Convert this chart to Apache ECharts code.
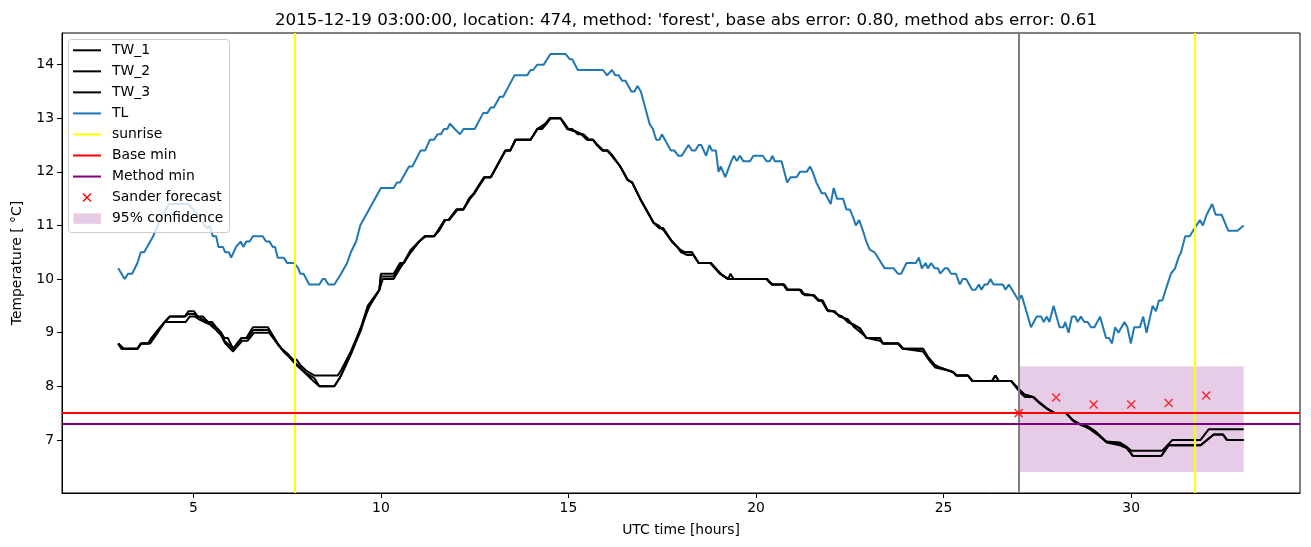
<!DOCTYPE html>
<html>
<head>
<meta charset="utf-8">
<script src="https://cdn.jsdelivr.net/npm/echarts@6/dist/echarts.min.js"></script>
<style>html,body{margin:0;padding:0;background:#fff}#c{width:1311px;height:547px}</style>
</head>
<body>
<div id="c"></div>
<script>
// ---- data (hours UTC, temperature °C) ----
const xTicks = [5, 10, 15, 20, 25, 30];
const yTicks = [7, 8, 9, 10, 11, 12, 13, 14];

const tl = [[3.0,10.2],[3.17,10.0],[3.26,10.1],[3.37,10.1],[3.51,10.3],[3.6,10.5],[3.69,10.5],[3.93,10.8],[4.15,11.15],[4.35,11.4],[4.86,11.4],[5.0,11.3],[5.12,11.2],[5.3,11.0],[5.37,10.95],[5.43,11.0],[5.52,10.8],[5.61,10.8],[5.67,10.6],[5.79,10.6],[5.85,10.5],[5.95,10.5],[6.01,10.4],[6.14,10.6],[6.26,10.7],[6.34,10.6],[6.41,10.7],[6.5,10.7],[6.59,10.8],[6.85,10.8],[6.94,10.7],[7.03,10.7],[7.12,10.6],[7.18,10.6],[7.25,10.4],[7.41,10.4],[7.5,10.3],[7.69,10.3],[7.8,10.2],[7.85,10.1],[7.94,10.1],[8.09,9.9],[8.36,9.9],[8.45,10.0],[8.51,10.0],[8.6,9.9],[8.76,9.9],[8.94,10.1],[9.1,10.3],[9.2,10.5],[9.34,10.7],[9.45,11.0],[10.0,11.7],[10.34,11.7],[10.43,11.8],[10.51,11.8],[10.75,12.1],[10.84,12.1],[11.06,12.4],[11.18,12.4],[11.31,12.6],[11.42,12.6],[11.51,12.7],[11.6,12.7],[11.68,12.8],[11.77,12.8],[11.84,12.9],[11.97,12.8],[12.02,12.8],[12.11,12.7],[12.2,12.8],[12.5,12.8],[12.73,13.1],[12.84,13.1],[12.93,13.2],[13.01,13.2],[13.17,13.4],[13.26,13.4],[13.56,13.8],[13.9,13.8],[13.99,13.9],[14.06,13.9],[14.17,14.0],[14.34,14.0],[14.52,14.2],[14.92,14.2],[15.04,14.1],[15.1,14.1],[15.25,13.9],[15.92,13.9],[16.03,13.8],[16.16,13.9],[16.25,13.8],[16.34,13.8],[16.43,13.7],[16.52,13.7],[16.68,13.5],[16.76,13.5],[16.84,13.6],[16.93,13.5],[17.16,12.9],[17.25,12.8],[17.34,12.6],[17.43,12.6],[17.49,12.7],[17.73,12.4],[17.82,12.4],[17.93,12.3],[18.02,12.3],[18.2,12.5],[18.29,12.4],[18.38,12.4],[18.47,12.5],[18.54,12.5],[18.67,12.3],[18.76,12.5],[18.82,12.4],[18.93,12.4],[19.0,12.0],[19.06,12.1],[19.18,11.9],[19.34,12.2],[19.41,12.3],[19.49,12.2],[19.57,12.3],[19.66,12.2],[19.84,12.2],[19.93,12.3],[20.18,12.3],[20.28,12.2],[20.37,12.2],[20.44,12.3],[20.5,12.2],[20.68,12.2],[20.83,11.8],[20.92,11.9],[21.08,11.9],[21.17,12.0],[21.35,12.0],[21.44,12.1],[21.51,12.0],[21.61,11.8],[21.75,11.6],[21.84,11.6],[21.99,11.4],[22.07,11.7],[22.16,11.5],[22.32,11.5],[22.41,11.3],[22.5,11.3],[22.59,11.15],[22.66,11.0],[22.75,11.1],[22.85,10.9],[22.94,10.7],[23.03,10.55],[23.16,10.5],[23.43,10.2],[23.67,10.2],[23.78,10.1],[23.87,10.1],[24.01,10.3],[24.26,10.3],[24.34,10.4],[24.42,10.2],[24.52,10.3],[24.58,10.2],[24.67,10.3],[24.76,10.2],[24.85,10.2],[24.91,10.1],[25.03,10.2],[25.11,10.2],[25.2,10.1],[25.33,10.1],[25.43,9.9],[25.51,10.0],[25.6,10.0],[25.76,9.8],[25.85,9.8],[25.94,9.9],[26.01,9.8],[26.09,9.9],[26.17,9.9],[26.25,10.0],[26.33,9.9],[26.58,9.9],[26.65,9.8],[26.74,9.9],[27.0,9.6],[27.08,9.7],[27.33,9.1],[27.48,9.3],[27.6,9.3],[27.67,9.2],[27.75,9.3],[27.82,9.2],[27.93,9.5],[28.09,9.1],[28.19,9.1],[28.24,9.2],[28.33,9.0],[28.42,9.3],[28.51,9.3],[28.57,9.2],[28.66,9.3],[28.75,9.2],[28.84,9.2],[28.93,9.1],[29.02,9.1],[29.17,9.3],[29.33,8.9],[29.41,8.9],[29.49,8.8],[29.57,9.1],[29.66,9.0],[29.82,9.2],[29.9,9.1],[29.99,8.8],[30.08,9.1],[30.23,9.1],[30.32,9.3],[30.41,9.0],[30.57,9.5],[30.66,9.4],[30.74,9.6],[30.83,9.6],[30.92,9.8],[31.06,10.1],[31.17,10.2],[31.26,10.4],[31.33,10.5],[31.44,10.8],[31.56,10.8],[31.65,10.9],[31.83,11.1],[31.91,11.0],[32.01,11.2],[32.16,11.4],[32.25,11.2],[32.41,11.2],[32.47,11.1],[32.59,10.9],[32.83,10.9],[33.0,11.0]];

const tw1 = [[3.0,8.8],[3.1,8.7],[3.51,8.7],[3.6,8.8],[3.79,8.8],[3.88,8.9],[4.0,9.0],[4.24,9.2],[4.37,9.3],[4.77,9.3],[4.87,9.4],[5.02,9.4],[5.12,9.3],[5.26,9.3],[5.39,9.2],[5.5,9.2],[5.61,9.1],[5.74,9.0],[5.83,8.9],[5.92,8.9],[6.06,8.7],[6.28,8.9],[6.41,8.9],[6.59,9.1],[6.99,9.1],[7.16,8.9],[7.25,8.8],[7.35,8.7],[7.52,8.6],[7.65,8.5],[7.75,8.5],[7.85,8.4],[8.0,8.3],[8.23,8.2],[8.85,8.2],[8.94,8.3],[9.2,8.65],[9.47,9.1],[9.65,9.5],[9.96,9.8],[10.0,10.1],[10.34,10.1],[10.51,10.3],[10.6,10.3],[10.8,10.55],[11.02,10.7],[11.17,10.8],[11.42,10.8],[11.52,10.9],[11.7,11.1],[11.8,11.1],[12.02,11.3],[12.2,11.3],[12.35,11.5],[12.48,11.6],[12.66,11.8],[12.75,11.9],[12.93,11.9],[13.32,12.4],[13.45,12.4],[13.59,12.6],[13.99,12.6],[14.17,12.8],[14.3,12.85],[14.39,12.9],[14.5,13.0],[14.79,13.0],[14.88,12.9],[14.97,12.8],[15.21,12.75],[15.35,12.7],[15.5,12.6],[15.65,12.6],[15.76,12.5],[15.9,12.4],[16.03,12.4],[16.16,12.3],[16.38,12.1],[16.58,11.85],[16.7,11.8],[16.91,11.5],[17.27,11.05],[17.43,10.95],[17.52,10.95],[17.76,10.7],[17.9,10.6],[17.98,10.55],[18.11,10.5],[18.29,10.5],[18.47,10.3],[18.78,10.3],[18.91,10.2],[19.04,10.1],[19.26,10.0],[19.32,10.1],[19.4,10.0],[20.28,10.0],[20.42,9.9],[20.73,9.9],[20.82,9.8],[21.17,9.8],[21.25,9.72],[21.52,9.7],[21.66,9.6],[21.75,9.6],[21.9,9.42],[22.06,9.4],[22.19,9.33],[22.3,9.3],[22.45,9.2],[22.6,9.15],[22.77,9.08],[22.94,8.9],[23.3,8.9],[23.38,8.8],[23.78,8.8],[23.91,8.7],[24.45,8.7],[24.58,8.55],[24.76,8.4],[24.9,8.35],[25.11,8.3],[25.25,8.27],[25.34,8.2],[25.65,8.2],[25.76,8.1],[26.29,8.1],[26.38,8.2],[26.47,8.1],[26.8,8.1],[27.0,7.95],[27.15,7.85],[27.38,7.8],[27.55,7.7],[27.73,7.6],[27.95,7.5],[28.26,7.5],[28.44,7.37],[28.66,7.28],[28.85,7.25],[29.06,7.15],[29.33,6.97],[29.7,6.95],[29.86,6.88],[30.0,6.8],[30.83,6.8],[31.1,7.0],[31.85,7.0],[32.07,7.2],[33.0,7.2]];

const tw2 = [[3.0,8.8],[3.05,8.8],[3.15,8.7],[3.51,8.7],[3.6,8.8],[3.85,8.8],[4.0,8.95],[4.24,9.2],[4.8,9.2],[4.9,9.3],[5.05,9.3],[5.15,9.25],[5.3,9.2],[5.45,9.15],[5.61,9.05],[5.74,8.95],[5.85,8.8],[5.92,8.75],[6.06,8.65],[6.3,8.85],[6.45,8.85],[6.62,9.0],[7.02,9.0],[7.18,8.85],[7.3,8.75],[7.4,8.65],[7.55,8.55],[7.74,8.4],[7.9,8.3],[8.05,8.2],[8.2,8.1],[8.36,8.0],[8.76,8.0],[8.85,8.1],[8.94,8.2],[9.2,8.6],[9.47,9.1],[9.7,9.5],[9.96,9.8],[10.05,10.0],[10.34,10.0],[10.51,10.2],[10.6,10.3],[10.8,10.5],[11.02,10.7],[11.2,10.8],[11.42,10.8],[11.55,10.9],[11.72,11.1],[11.82,11.1],[12.05,11.3],[12.2,11.3],[12.38,11.5],[12.5,11.6],[12.68,11.8],[12.78,11.9],[12.93,11.9],[13.32,12.4],[13.45,12.4],[13.59,12.6],[13.99,12.6],[14.17,12.8],[14.3,12.8],[14.42,12.9],[14.53,13.0],[14.79,13.0],[14.9,12.9],[15.0,12.8],[15.1,12.8],[15.25,12.7],[15.4,12.7],[15.55,12.6],[15.65,12.6],[15.78,12.5],[15.93,12.4],[16.05,12.4],[16.18,12.3],[16.38,12.1],[16.58,11.85],[16.7,11.8],[16.91,11.5],[17.27,11.05],[17.4,11.0],[17.55,10.9],[17.76,10.7],[17.9,10.6],[18.02,10.5],[18.15,10.45],[18.33,10.45],[18.47,10.3],[18.8,10.3],[18.93,10.2],[19.06,10.1],[19.26,10.0],[20.3,10.0],[20.36,9.95],[20.45,9.9],[20.75,9.9],[20.85,9.8],[21.2,9.8],[21.3,9.7],[21.55,9.7],[21.68,9.6],[21.78,9.6],[21.92,9.4],[22.1,9.4],[22.22,9.3],[22.45,9.25],[22.62,9.1],[22.8,9.0],[22.96,8.9],[23.3,8.85],[23.4,8.8],[23.8,8.8],[23.93,8.7],[24.45,8.65],[24.6,8.5],[24.78,8.35],[25.1,8.3],[25.28,8.25],[25.36,8.2],[25.65,8.2],[25.78,8.1],[26.8,8.1],[27.02,7.9],[27.17,7.8],[27.4,7.8],[27.57,7.68],[27.75,7.58],[27.97,7.5],[28.28,7.5],[28.46,7.35],[28.7,7.27],[28.9,7.2],[29.1,7.1],[29.35,6.95],[29.7,6.9],[29.88,6.85],[30.05,6.7],[30.8,6.7],[31.0,6.9],[31.85,6.9],[32.2,7.1],[32.45,7.1],[32.55,7.0],[33.0,7.0]];

const tw3 = [[3.0,8.8],[3.08,8.7],[3.51,8.7],[3.62,8.8],[3.82,8.8],[4.0,9.0],[4.24,9.2],[4.37,9.3],[4.77,9.3],[4.87,9.35],[5.02,9.35],[5.12,9.3],[5.26,9.25],[5.39,9.2],[5.61,9.1],[5.74,9.0],[5.83,8.85],[6.06,8.7],[6.28,8.9],[6.45,8.9],[6.6,9.05],[7.0,9.05],[7.16,8.9],[7.28,8.75],[7.52,8.6],[7.7,8.45],[7.85,8.35],[8.0,8.25],[8.23,8.15],[8.36,8.0],[8.76,8.0],[8.9,8.15],[9.2,8.6],[9.47,9.05],[9.65,9.45],[9.96,9.8],[10.0,10.05],[10.34,10.05],[10.51,10.25],[10.62,10.3],[10.82,10.55],[11.02,10.7],[11.17,10.8],[11.42,10.8],[11.52,10.9],[11.7,11.1],[11.8,11.1],[12.02,11.3],[12.2,11.3],[12.35,11.5],[12.48,11.6],[12.66,11.8],[12.75,11.9],[12.93,11.9],[13.32,12.4],[13.45,12.4],[13.59,12.6],[13.99,12.6],[14.17,12.8],[14.39,12.9],[14.5,13.0],[14.79,13.0],[14.88,12.9],[14.97,12.8],[15.21,12.75],[15.35,12.7],[15.5,12.6],[15.65,12.6],[15.76,12.5],[15.9,12.4],[16.03,12.4],[16.16,12.3],[16.38,12.1],[16.58,11.85],[16.7,11.8],[16.91,11.5],[17.27,11.05],[17.43,10.95],[17.52,10.95],[17.76,10.7],[17.9,10.6],[18.0,10.5],[18.29,10.5],[18.47,10.3],[18.78,10.3],[18.91,10.2],[19.04,10.1],[19.26,10.0],[20.28,10.0],[20.42,9.9],[20.73,9.9],[20.82,9.8],[21.17,9.8],[21.25,9.72],[21.52,9.7],[21.66,9.6],[21.75,9.6],[21.9,9.42],[22.06,9.4],[22.19,9.33],[22.3,9.3],[22.45,9.2],[22.6,9.15],[22.77,9.08],[22.94,8.9],[23.3,8.9],[23.38,8.8],[23.78,8.8],[23.91,8.7],[24.45,8.7],[24.58,8.55],[24.76,8.4],[24.9,8.35],[25.11,8.3],[25.25,8.27],[25.34,8.2],[25.65,8.2],[25.76,8.1],[26.29,8.1],[26.38,8.2],[26.47,8.1],[26.8,8.1],[27.0,7.95],[27.15,7.85],[27.38,7.8],[27.55,7.7],[27.73,7.6],[27.95,7.5],[28.26,7.5],[28.44,7.37],[28.66,7.28],[28.85,7.25],[29.06,7.15],[29.33,6.97],[29.7,6.92],[29.88,6.85],[30.05,6.7],[30.8,6.7],[31.0,6.9],[31.85,6.9],[32.2,7.1],[32.45,7.1],[32.55,7.0],[33.0,7.0]];

const sunriseHours = [7.71, 31.70];
const forecastHour = 27;
const baseMin = 7.5;
const methodMin = 7.31;
const sanderHours = [27, 28, 29, 30, 31, 32];
const sanderValues = [7.50, 7.79, 7.66, 7.66, 7.69, 7.83];
const confidence = { start: 27, end: 33, low: 6.40, high: 8.37 };

const titleText = "2015-12-19 03:00:00, location: 474, method: 'forest', base abs error: 0.80, method abs error: 0.61";

// ---- chart ----
const FONT = 'DejaVu Sans';
const chart = echarts.init(document.getElementById('c'), null, { renderer: 'canvas' });
const crossPath = 'path://M0,0L10,10M10,0L0,10';

const legendItems = [
  { name: 'TW_1', type: 'line', color: '#000000' },
  { name: 'TW_2', type: 'line', color: '#000000' },
  { name: 'TW_3', type: 'line', color: '#000000' },
  { name: 'TL', type: 'line', color: '#1f77b4' },
  { name: 'sunrise', type: 'line', color: '#ffff00' },
  { name: 'Base min', type: 'line', color: '#ff0000' },
  { name: 'Method min', type: 'line', color: '#800080' },
  { name: 'Sander forecast', type: 'cross', color: '#ff0000' },
  { name: '95% confidence', type: 'rect', color: 'rgba(128,0,128,0.2)' }
];
const lgX = 68, lgY = 39, lgW = 161, lgH = 193, rowY0 = 50.3, rowGap = 21.04;
const legendGraphics = [{
  type: 'rect', shape: { x: lgX + 0.5, y: lgY + 0.5, width: lgW, height: lgH, r: 3 },
  style: { fill: 'rgba(255,255,255,0.8)', stroke: '#cccccc', lineWidth: 1 }, z: 100
}];
legendItems.forEach((it, i) => {
  const cy = rowY0 + i * rowGap;
  if (it.type === 'line') {
    legendGraphics.push({ type: 'line', shape: { x1: 73, y1: cy, x2: 101, y2: cy }, style: { stroke: it.color, lineWidth: 2 }, z: 101 });
  } else if (it.type === 'cross') {
    legendGraphics.push({ type: 'line', shape: { x1: 83, y1: cy - 4, x2: 91, y2: cy + 4 }, style: { stroke: it.color, lineWidth: 1.5 }, z: 101 });
    legendGraphics.push({ type: 'line', shape: { x1: 91, y1: cy - 4, x2: 83, y2: cy + 4 }, style: { stroke: it.color, lineWidth: 1.5 }, z: 101 });
  } else {
    legendGraphics.push({ type: 'rect', shape: { x: 73.5, y: cy - 5.3, width: 27.5, height: 10.5 }, style: { fill: it.color }, z: 101 });
  }
  legendGraphics.push({ type: 'text', x: 112, y: cy, style: { text: it.name, font: '13.9px "' + FONT + '"', fill: '#000', verticalAlign: 'middle', textAlign: 'left' }, z: 101 });
});

const twLine = (name, data) => ({
  name, type: 'line', data, showSymbol: false, symbol: 'none', silent: true,
  lineStyle: { color: '#000', width: 2 }, z: 3
});

const option = {
  animation: false,
  backgroundColor: '#fff',
  textStyle: { fontFamily: FONT },
  title: {
    text: titleText, left: 681, top: 7, textAlign: 'center',
    textStyle: { fontFamily: FONT, fontSize: 16.7, fontWeight: 'normal', color: '#000' }
  },
  grid: { left: 62, right: 11, top: 33, bottom: 54, show: true, borderColor: '#000', borderWidth: 1, backgroundColor: 'transparent' },
  xAxis: {
    type: 'value', min: 1.5, max: 34.5,
    name: 'UTC time [hours]', nameLocation: 'middle', nameGap: 30,
    nameTextStyle: { fontFamily: FONT, fontSize: 13.9, color: '#000' },
    axisLine: { show: true, onZero: false, lineStyle: { color: '#000', width: 1 } },
    axisTick: { show: true, inside: false, length: 5, customValues: xTicks, lineStyle: { color: '#000' } },
    axisLabel: { show: true, customValues: xTicks, fontFamily: FONT, fontSize: 13.9, color: '#000', margin: 8 },
    splitLine: { show: false }
  },
  yAxis: {
    type: 'value', min: 6.01, max: 14.59,
    name: 'Temperature [ °C]', nameLocation: 'middle', nameGap: 38,
    nameTextStyle: { fontFamily: FONT, fontSize: 13.9, color: '#000' },
    axisLine: { show: true, onZero: false, lineStyle: { color: '#000', width: 1 } },
    axisTick: { show: true, inside: false, length: 5, customValues: yTicks, lineStyle: { color: '#000' } },
    axisLabel: { show: true, customValues: yTicks, fontFamily: FONT, fontSize: 13.9, color: '#000', margin: 8 },
    splitLine: { show: false }
  },
  graphic: legendGraphics,
  series: [
    {
      name: '95% confidence', type: 'line', data: [], silent: true, z: 1,
      markArea: {
        silent: true,
        itemStyle: { color: 'rgba(128,0,128,0.2)' },
        data: [[{ xAxis: confidence.start, yAxis: confidence.low }, { xAxis: confidence.end, yAxis: confidence.high }]]
      }
    },
    twLine('TW_1', tw1),
    twLine('TW_2', tw2),
    twLine('TW_3', tw3),
    {
      name: 'TL', type: 'line', data: tl, showSymbol: false, symbol: 'none', silent: true,
      lineStyle: { color: '#1f77b4', width: 2 }, z: 3
    },
    {
      name: 'sunrise', type: 'line', data: [], silent: true, z: 4,
      markLine: {
        silent: true, symbol: ['none', 'none'], label: { show: false },
        lineStyle: { color: '#ffff00', width: 2, type: 'solid' },
        data: sunriseHours.map(h => ({ xAxis: h }))
      }
    },
    {
      name: 'forecast time', type: 'line', data: [], silent: true, z: 4,
      markLine: {
        silent: true, symbol: ['none', 'none'], label: { show: false },
        lineStyle: { color: '#808080', width: 2, type: 'solid' },
        data: [{ xAxis: forecastHour }]
      }
    },
    {
      name: 'Base min', type: 'line', data: [], silent: true, z: 4,
      markLine: {
        silent: true, symbol: ['none', 'none'], label: { show: false },
        lineStyle: { color: '#ff0000', width: 2, type: 'solid' },
        data: [{ yAxis: baseMin }]
      }
    },
    {
      name: 'Method min', type: 'line', data: [], silent: true, z: 4,
      markLine: {
        silent: true, symbol: ['none', 'none'], label: { show: false },
        lineStyle: { color: '#800080', width: 2, type: 'solid' },
        data: [{ yAxis: methodMin }]
      }
    },
    {
      name: 'Sander forecast', type: 'scatter', silent: true, z: 5,
      data: sanderHours.map((h, i) => [h, sanderValues[i]]),
      symbol: crossPath, symbolSize: 8,
      itemStyle: { color: 'rgba(0,0,0,0)', borderColor: '#ff0000', borderWidth: 1.5 }
    }
  ]
};
chart.setOption(option);
</script>
</body>
</html>
